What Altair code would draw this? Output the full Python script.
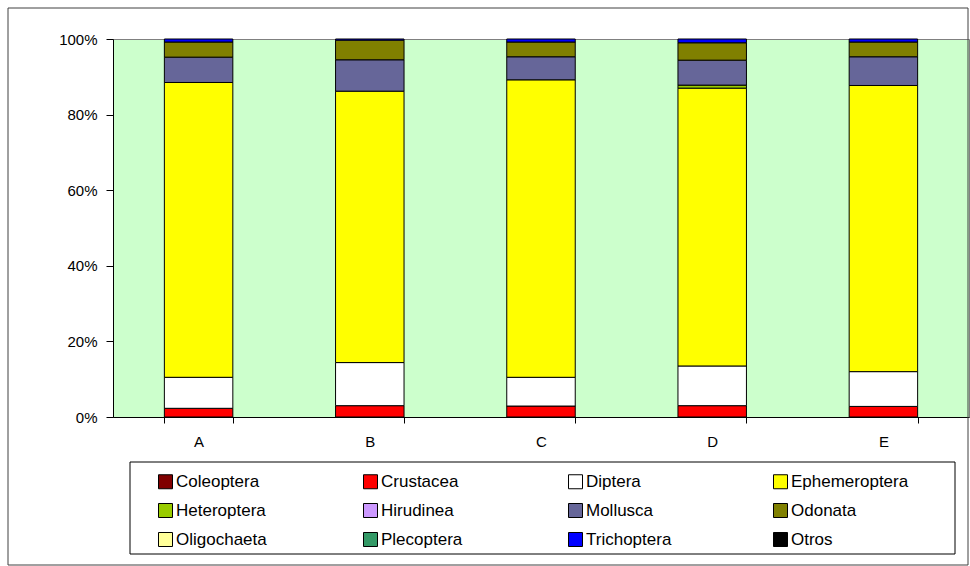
import altair as alt
import pandas as pd

# Sampling sites (x categories)
sites = ["A", "B", "C", "D", "E"]

# Taxa, stacked bottom to top, and their fill colours
taxa = ["Coleoptera", "Crustacea", "Diptera", "Ephemeroptera",
        "Heteroptera", "Hirudinea", "Mollusca", "Odonata",
        "Oligochaeta", "Plecoptera", "Trichoptera", "Otros"]
colors = ["#800000", "#FF0000", "#FFFFFF", "#FFFF00",
          "#99CC00", "#CC99FF", "#666699", "#808000",
          "#FFFF99", "#339966", "#0000FF", "#000000"]

# Relative abundance (%) of each taxon per site, in site order A..E
coleoptera    = [0.0, 0.0, 0.0, 0.0, 0.0]
crustacea     = [2.3, 3.0, 2.9, 3.0, 2.8]
diptera       = [8.2, 11.4, 7.6, 10.5, 9.2]
ephemeroptera = [78.0, 71.8, 78.7, 73.5, 75.7]
heteroptera   = [0.0, 0.0, 0.0, 0.8, 0.0]
hirudinea     = [0.0, 0.0, 0.0, 0.0, 0.0]
mollusca      = [6.7, 8.3, 6.1, 6.6, 7.6]
odonata       = [4.0, 5.2, 3.9, 4.6, 3.9]
oligochaeta   = [0.0, 0.0, 0.0, 0.0, 0.0]
plecoptera    = [0.0, 0.0, 0.0, 0.0, 0.0]
trichoptera   = [0.8, 0.3, 0.8, 1.0, 0.8]
otros         = [0.0, 0.0, 0.0, 0.0, 0.0]

series = [coleoptera, crustacea, diptera, ephemeroptera, heteroptera,
          hirudinea, mollusca, odonata, oligochaeta, plecoptera,
          trichoptera, otros]

rows = []
for order, (taxon, values) in enumerate(zip(taxa, series)):
    for site, v in zip(sites, values):
        rows.append({"site": site, "taxon": taxon, "value": v, "order": order})
df = pd.DataFrame(rows)

FONT = "Liberation Sans"

bars = (
    alt.Chart(df)
    .transform_filter("datum.value > 0")
    .mark_bar(stroke="black", strokeWidth=1)
    .encode(
        x=alt.X(
            "site:N",
            sort=sites,
            title=None,
            scale=alt.Scale(paddingInner=0.6, paddingOuter=0.3),
            axis=alt.Axis(
                labelAngle=0, tickBand="extent", tickSize=6,
                labelPadding=11, domainColor="black", tickColor="black",
            ),
        ),
        y=alt.Y(
            "value:Q",
            stack="normalize",
            title=None,
            scale=alt.Scale(domain=[0, 1], nice=False),
            axis=alt.Axis(
                format="%", values=[0, 0.2, 0.4, 0.6, 0.8, 1.0], grid=False,
                tickSize=7, labelPadding=9, domainColor="black", tickColor="black",
            ),
        ),
        color=alt.Color(
            "taxon:N",
            scale=alt.Scale(domain=taxa, range=colors),
            legend=alt.Legend(
                title=None, orient="none", legendX=17, legendY=422,
                direction="horizontal",
                columns=4, gridAlign="all", columnPadding=53, rowPadding=10,
                symbolType="square", symbolSize=196, symbolStrokeColor="black",
                symbolStrokeWidth=1, symbolOffset=15, labelOffset=2,
                labelFont=FONT, labelFontSize=17, labelColor="black",
                padding=12,
            ),
        ),
        order=alt.Order("order:Q", sort="ascending"),
    )
)

one_row = alt.Data(values=[{"f": 1}])

# Box around the legend entries
legend_box = (
    alt.Chart(one_row)
    .mark_rect(filled=False, stroke="black", strokeWidth=1, clip=False)
    .encode(x=alt.value(17), x2=alt.value(842), y=alt.value(423), y2=alt.value(515))
)

# Outer frame around the whole figure
frame = (
    alt.Chart(one_row)
    .mark_rect(filled=False, stroke="#404040", strokeWidth=1, clip=False)
    .encode(x=alt.value(-105), x2=alt.value(855), y=alt.value(-31), y2=alt.value(526))
)

chart = (
    alt.layer(bars, legend_box, frame)
    .properties(
        width=856, height=378,
        background="white",
        autosize=alt.AutoSizeParams(type="none"),
        padding={"left": 113, "top": 39, "right": 1, "bottom": 149},
    )
    .configure_view(fill="#CCFFCC", stroke="#808080", strokeWidth=1)
    .configure_axis(labelFont=FONT, labelFontSize=15, labelColor="black")
)

chart.save("out.html", embed_options={"renderer": "svg", "actions": False})
